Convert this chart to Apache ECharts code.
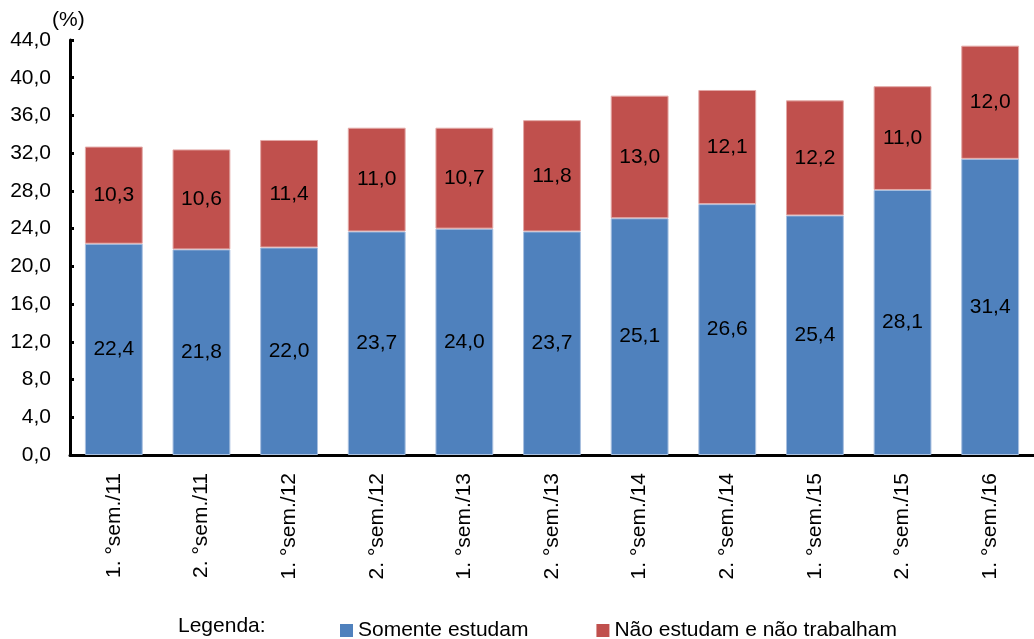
<!DOCTYPE html>
<html>
<head>
<meta charset="utf-8">
<script src="https://cdn.jsdelivr.net/npm/echarts@6/dist/echarts.min.js"></script>
<style>
  html, body { margin: 0; padding: 0; background: #fff; }
  #chart { width: 1034px; height: 639px; }
</style>
</head>
<body>
<div id="chart"></div>
<script>
// Semesters on the horizontal axis
const categories = ['1. °sem./11', '2. °sem./11', '1. °sem./12', '2. °sem./12', '1. °sem./13',
  '2. °sem./13', '1. °sem./14', '2. °sem./14', '1. °sem./15', '2. °sem./15', '1. °sem./16'];

// Share of young people (%) in each group
const somenteEstudam = [22.4, 21.8, 22.0, 23.7, 24.0, 23.7, 25.1, 26.6, 25.4, 28.1, 31.4];
const naoEstudamNaoTrabalham = [10.3, 10.6, 11.4, 11.0, 10.7, 11.8, 13.0, 12.1, 12.2, 11.0, 12.0];

const seriesNames = ['Somente estudam', 'Não estudam e não trabalham'];

// Value axis range
const yMin = 0, yMax = 44, yStep = 4;

const FONT = '"Liberation Sans", Arial, sans-serif';
const fmt = v => v.toFixed(1).replace('.', ',');

const chart = echarts.init(document.getElementById('chart'));

const labelStyle = {
  show: true,
  position: 'inside',
  color: '#000',
  fontFamily: FONT,
  fontSize: 21,
  formatter: p => fmt(p.value)
};

chart.setOption({
  animation: false,
  textStyle: { fontFamily: FONT },
  grid: { left: 70, right: -4, top: 40, bottom: 184 },
  graphic: [
    {
      type: 'text', left: 52, top: 10,
      style: { text: '(%)', font: '21px ' + FONT, fill: '#000' }
    },
    {
      type: 'text', left: 178, top: 616,
      style: { text: 'Legenda:', font: '21px ' + FONT, fill: '#000' }
    }
  ],
  legend: {
    left: 335, top: 615,
    icon: 'rect', itemWidth: 13, itemHeight: 13, itemGap: 68,
    itemStyle: { borderWidth: 0 },
    textStyle: { fontFamily: FONT, fontSize: 21, color: '#000' },
    data: seriesNames
  },
  xAxis: {
    type: 'category',
    data: categories,
    axisLine: { lineStyle: { color: '#000', width: 3 } },
    axisTick: { inside: true, length: 5, lineStyle: { color: '#000', width: 3 } },
    axisLabel: { rotate: 90, margin: 18, color: '#000', fontFamily: FONT, fontSize: 21, interval: 0 }
  },
  yAxis: {
    type: 'value',
    min: yMin, max: yMax, interval: yStep,
    splitLine: { show: false },
    axisLine: { show: true, lineStyle: { color: '#000', width: 3 } },
    axisTick: { show: true, inside: true, length: 4, lineStyle: { color: '#000', width: 3 } },
    axisLabel: { margin: 19, color: '#000', fontFamily: FONT, fontSize: 21, formatter: fmt }
  },
  series: [
    {
      name: seriesNames[0], type: 'bar', stack: 'total',
      data: somenteEstudam, barWidth: '66%',
      itemStyle: { color: '#4F81BD', borderColor: '#A9C0E0', borderWidth: 1 },
      label: labelStyle
    },
    {
      name: seriesNames[1], type: 'bar', stack: 'total',
      data: naoEstudamNaoTrabalham, barWidth: '66%',
      itemStyle: { color: '#C0504D', borderColor: '#E3A9A7', borderWidth: 1 },
      label: labelStyle
    }
  ]
});
</script>
</body>
</html>
